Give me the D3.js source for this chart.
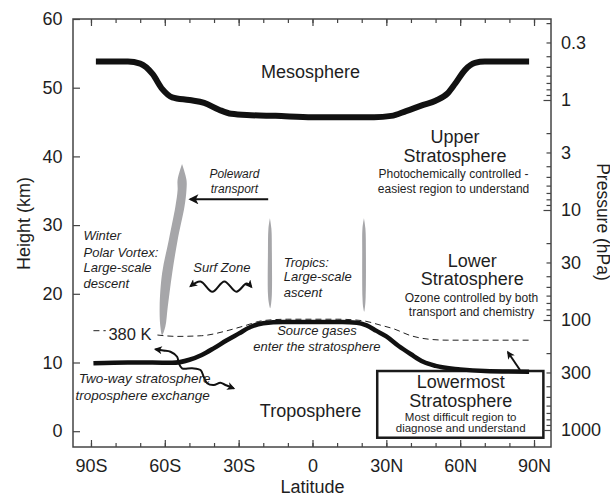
<!DOCTYPE html>
<html><head><meta charset="utf-8">
<script src="https://cdn.jsdelivr.net/npm/d3@7"></script>
<style>
body{margin:0;background:#fff}
svg{display:block}
text{font-family:"Liberation Sans",Arial,Helvetica,sans-serif;fill:#1e1e1e}
</style>
</head><body>
<svg id="c" width="610" height="498"></svg>
<script>
// ---------- data ----------
const latMajor = [-90, -60, -30, 0, 30, 60, 90];
const latLabels = ["90S", "60S", "30S", "0", "30N", "60N", "90N"];
const latMinor = [-90,-80,-70,-60,-50,-40,-30,-20,-10,0,10,20,30,40,50,60,70,80,90];
const heightTicks = [0, 10, 20, 30, 40, 50, 60];
const pressureLabels = [0.3, 1, 3, 10, 30, 100, 300, 1000];
const pressureMajor = [1, 10, 100, 1000];
const pressureMinor = [0.2,0.3,0.4,0.5,0.6,0.7,0.8,0.9,2,3,4,5,6,7,8,9,20,30,40,50,60,70,80,90,200,300,400,500,600,700,800,900];

// [latitude, height km]
const mesopause = [[-88,53.8],[-75,53.8],[-70,53.5],[-65,52],[-61,49.8],[-57,48.6],[-50,48.2],[-44,47.8],[-38,46.8],[-33,46.2],[-25,46.0],[-15,45.9],[0,45.7],[15,45.7],[25,45.7],[32,45.9],[38,46.6],[45,47.5],[50,48.1],[55,49.2],[58,50.6],[62,52.6],[66,53.6],[70,53.8],[88,53.8]];
const tropopause = [[-89,9.9],[-75,10.0],[-65,10.0],[-57,9.95],[-50,10.4],[-45,11.1],[-40,12.1],[-35,13.2],[-30,14.2],[-25,15.2],[-20,15.7],[-12,15.9],[0,15.9],[12,15.9],[18,15.8],[22,15.4],[26,14.6],[30,13.8],[35,12.4],[40,11.2],[45,10.1],[50,9.5],[60,9.0],[70,8.75],[88,8.65]];
const isentrope380a = [[-89,14.63],[-84,14.63]];
const isentrope380b = [[-63,14.0],[-55,13.8],[-45,13.9],[-35,14.6],[-28,15.3],[-20,16.1],[-10,16.3],[10,16.3],[20,16.1],[28,15.4],[33,14.9],[40,13.9],[47,13.4],[55,13.25],[88,13.25]];

const vortexShape = [[-53.0,38.9],[-51.2,36.6],[-51.2,35.1],[-52.0,32.7],[-54.8,27.8],[-57.0,23.0],[-58.8,18.1],[-59.8,15.2],[-61.1,14.0],[-61.8,15.2],[-62.1,18.1],[-61.1,23.0],[-58.4,27.8],[-55.7,32.7],[-54.8,35.1],[-54.8,36.6],[-53.0,38.9]];
const tropicsLeft = [[-17.3,31.0],[-16.7,29.5],[-16.5,26],[-16.5,20],[-16.8,18.6],[-17.2,17.9],[-17.7,18.6],[-18.1,20],[-18.1,26],[-17.9,29.5],[-17.3,31.0]];
const tropicsRight = [[20.9,31.0],[21.5,29.5],[21.7,26],[21.6,19.5],[21.3,18.0],[21.0,17.4],[20.6,18.0],[20.3,19.5],[20.2,26],[20.3,29.5],[20.9,31.0]];

const polewardArrow = [[-18,33.75],[-49.6,33.75]];
const surfWave = [[-49.6,21.1],[-45.5,21.8],[-40.7,20.3],[-35.8,21.8],[-30.9,20.3],[-26.8,21.5],[-24.8,21.0]];
const exchangeArrow = [[-63.8,11.92],[-60.6,11.75],[-57.7,11.57],[-55.0,10.84],[-54.3,9.88],[-53.0,9.16],[-48.9,9.16],[-45.5,8.91],[-44.2,7.93],[-42.8,6.97],[-40.1,6.72],[-37.4,7.06],[-35.4,6.72],[-32.0,6.24]];
const lowermostArrow = [[84.3,8.91],[79.4,11.5]];
const lowermostBox = [[26.3,8.76],[93.8,-0.95]];

// annotations: [text, lat, height, anchor, size, italic]
const labels = [
  ["Mesosphere", -0.8, 51.4, "middle", 18, false],
  ["Upper", 57.9, 41.9, "middle", 18, false],
  ["Stratosphere", 57.9, 39.2, "middle", 18, false],
  ["Photochemically controlled -", 57.3, 36.8, "middle", 12, false],
  ["easiest region to understand", 57.3, 34.6, "middle", 12, false],
  ["Lower", 64.9, 23.95, "middle", 18, false],
  ["Stratosphere", 64.9, 21.3, "middle", 18, false],
  ["Ozone controlled by both", 64.6, 18.85, "middle", 12, false],
  ["transport and chemistry", 64.6, 16.8, "middle", 12, false],
  ["Troposphere", -0.8, 2.1, "middle", 18, false],
  ["380 K", -82.9, 13.3, "start", 16.5, false],
  ["Winter", -93.0, 27.8, "start", 13, true],
  ["Polar Vortex:", -93.0, 25.4, "start", 13, true],
  ["Large-scale", -93.0, 23.2, "start", 13, true],
  ["descent", -93.0, 20.9, "start", 13, true],
  ["Poleward", -31.7, 36.9, "middle", 12, true],
  ["transport", -31.7, 34.7, "middle", 12, true],
  ["Surf Zone", -48.4, 23.2, "start", 13, true],
  ["Tropics:", -11.7, 23.9, "start", 13, true],
  ["Large-scale", -11.7, 21.9, "start", 13, true],
  ["ascent", -11.7, 19.6, "start", 13, true],
  ["Source gases", 1.8, 14.0, "middle", 13, true],
  ["enter the stratosphere", 1.8, 11.7, "middle", 13, true],
  ["Two-way stratosphere", -95.0, 6.97, "start", 13.5, true],
  ["troposphere exchange", -96.3, 4.54, "start", 13.5, true]
];
const boxLabels = [
  ["Lowermost", 60.2, 6.24, 18],
  ["Stratosphere", 60.2, 3.57, 18],
  ["Most difficult region to", 60.2, 1.53, 11.5],
  ["diagnose and understand", 60.2, -0.07, 11.5]
];

// ---------- chart ----------
const svg = d3.select("#c");
const L = 73, R = 551, T = 19, B = 447;
const x = d3.scaleLinear().domain([-97.3, 96.9]).range([L, R]);
const y = d3.scaleLinear().domain([-2.3, 60]).range([B, T]);
const p = d3.scaleLog().domain([1427.5, 0.1835]).range([B, T]);

const defs = svg.append("defs");
function marker(id, w, h) {
  defs.append("marker").attr("id", id).attr("markerUnits", "userSpaceOnUse")
    .attr("viewBox", "0 0 10 10").attr("refX", 8).attr("refY", 5)
    .attr("markerWidth", w).attr("markerHeight", h).attr("orient", "auto-start-reverse")
    .append("path").attr("d", "M0,0 L10,5 L0,10 L2.5,5 z").attr("fill", "#111");
}
marker("ah-big", 13, 10);
marker("ah-small", 10, 8);

const lineMono = d3.line().x(d => x(d[0])).y(d => y(d[1])).curve(d3.curveMonotoneX);
const lineCR = d3.line().x(d => x(d[0])).y(d => y(d[1])).curve(d3.curveCatmullRom.alpha(0.5));
const lineStraight = d3.line().x(d => x(d[0])).y(d => y(d[1]));

// gray shapes
[vortexShape, tropicsLeft, tropicsRight].forEach(s => {
  svg.append("path").attr("d", lineCR(s)).attr("fill", "#a6a6a9").attr("stroke", "none");
});

// 380 K isentrope
[isentrope380a, isentrope380b].forEach(s => {
  svg.append("path").attr("d", lineMono(s)).attr("fill", "none")
    .attr("stroke", "#222").attr("stroke-width", 1).attr("stroke-dasharray", "6,4");
});

// mesopause
svg.append("path").attr("d", lineMono(mesopause)).attr("fill", "none")
  .attr("stroke", "#111").attr("stroke-width", 6).attr("stroke-linecap", "butt");

// lowermost box (under tropopause)
svg.append("rect")
  .attr("x", x(lowermostBox[0][0])).attr("y", y(lowermostBox[0][1]))
  .attr("width", x(lowermostBox[1][0]) - x(lowermostBox[0][0]))
  .attr("height", y(lowermostBox[1][1]) - y(lowermostBox[0][1]))
  .attr("fill", "#fff").attr("stroke", "#1a1a1a").attr("stroke-width", 2.5);

// tropopause
svg.append("path").attr("d", lineMono(tropopause)).attr("fill", "none")
  .attr("stroke", "#111").attr("stroke-width", 4.5).attr("stroke-linecap", "butt");

// arrows
svg.append("path").attr("d", lineStraight(polewardArrow)).attr("fill", "none")
  .attr("stroke", "#111").attr("stroke-width", 2).attr("marker-end", "url(#ah-big)");
svg.append("path").attr("d", lineCR(surfWave))
  .attr("fill", "none").attr("stroke", "#111").attr("stroke-width", 2)
  .attr("marker-start", "url(#ah-small)").attr("marker-end", "url(#ah-small)");
svg.append("path").attr("d", lineCR(exchangeArrow)).attr("fill", "none")
  .attr("stroke", "#111").attr("stroke-width", 2)
  .attr("marker-start", "url(#ah-small)").attr("marker-end", "url(#ah-small)");
svg.append("path").attr("d", lineStraight(lowermostArrow)).attr("fill", "none")
  .attr("stroke", "#111").attr("stroke-width", 2).attr("marker-end", "url(#ah-small)");

// labels
labels.forEach(([t, la, h, anc, size, it]) => {
  svg.append("text").attr("x", x(la)).attr("y", y(h)).attr("text-anchor", anc)
    .attr("font-size", size).attr("font-style", it ? "italic" : "normal").text(t);
});
boxLabels.forEach(([t, la, h, size]) => {
  svg.append("text").attr("x", x(la)).attr("y", y(h)).attr("text-anchor", "middle")
    .attr("font-size", size).text(t);
});

// axes
function styleAxis(g) {
  g.select(".domain").remove();
  g.selectAll(".tick line").attr("stroke", "#444").attr("stroke-width", 1.2);
  g.selectAll(".tick text").attr("font-size", 18).attr("fill", "#1e1e1e")
    .attr("font-family", "Liberation Sans, Arial, sans-serif");
}
svg.append("g").attr("transform", `translate(0,${B})`)
  .call(d3.axisBottom(x).tickValues(latMinor).tickSize(-4).tickFormat("")).call(styleAxis);
svg.append("g").attr("transform", `translate(0,${B})`)
  .call(d3.axisBottom(x).tickValues(latMajor).tickSize(-7).tickPadding(12)
    .tickFormat((d, i) => latLabels[i])).call(styleAxis);
svg.append("g").attr("transform", `translate(0,${T})`)
  .call(d3.axisTop(x).tickValues(latMinor).tickSize(-4).tickFormat("")).call(styleAxis);
svg.append("g").attr("transform", `translate(0,${T})`)
  .call(d3.axisTop(x).tickValues(latMajor).tickSize(-7).tickFormat("")).call(styleAxis);
svg.append("g").attr("transform", `translate(${L},0)`)
  .call(d3.axisLeft(y).tickValues(heightTicks).tickSize(-7).tickPadding(10.5)).call(styleAxis);
svg.append("g").attr("transform", `translate(${R},0)`)
  .call(d3.axisRight(p).tickValues(pressureMinor).tickSize(-4.5).tickFormat("")).call(styleAxis);
svg.append("g").attr("transform", `translate(${R},0)`)
  .call(d3.axisRight(p).tickValues(pressureMajor).tickSize(-7.5).tickFormat("")).call(styleAxis);
svg.append("g").attr("transform", `translate(${R},0)`)
  .call(d3.axisRight(p).tickValues(pressureLabels).tickSize(0).tickPadding(10)
    .tickFormat(d => String(d))).call(styleAxis);

// frame
svg.append("rect").attr("x", L).attr("y", T).attr("width", R - L).attr("height", B - T)
  .attr("fill", "none").attr("stroke", "#444").attr("stroke-width", 1.5);

// axis titles
svg.append("text").attr("transform", `translate(30,${(270 + 177) / 2}) rotate(-90)`)
  .attr("text-anchor", "middle").attr("font-size", 18).text("Height (km)");
svg.append("text").attr("transform", `translate(597,222) rotate(90)`)
  .attr("text-anchor", "middle").attr("font-size", 17.5).text("Pressure (hPa)");
svg.append("text").attr("x", x(0)).attr("y", 493).attr("text-anchor", "middle")
  .attr("font-size", 18).text("Latitude");
</script>
</body></html>
